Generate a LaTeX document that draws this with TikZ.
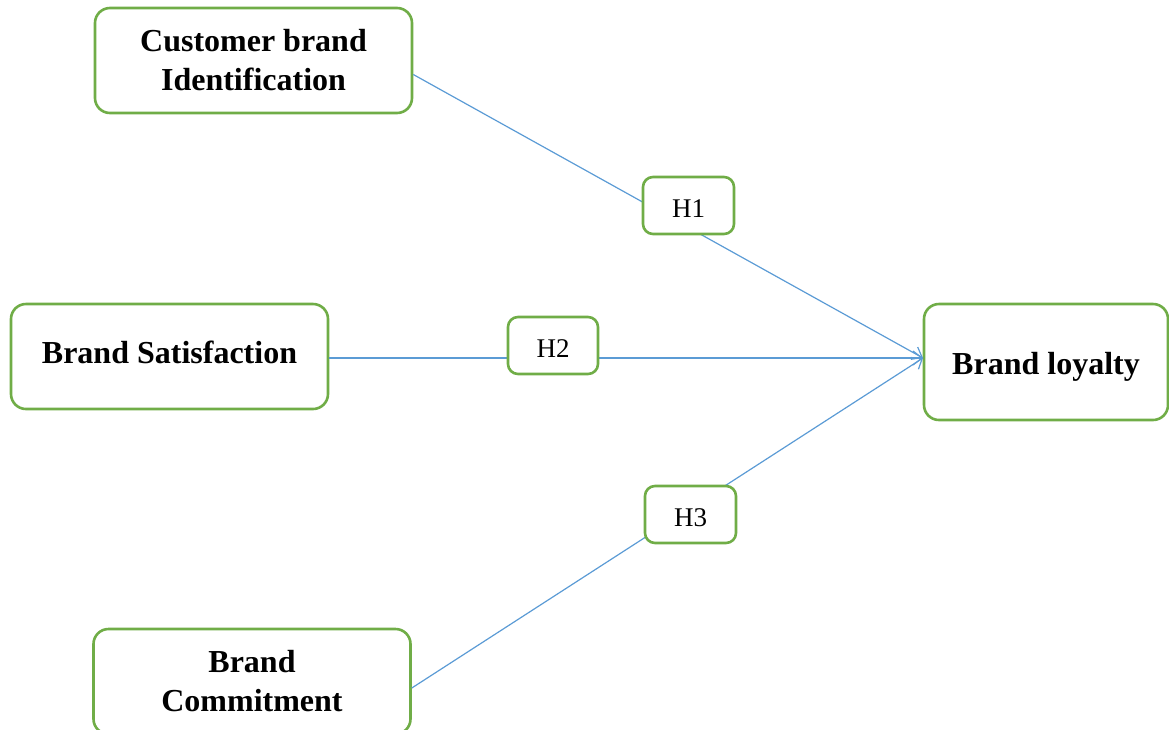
\documentclass[tikz,border=0pt]{standalone}
\usepackage{fontspec}
\setmainfont{Liberation Serif}
\usetikzlibrary{arrows.meta}
\definecolor{boxgreen}{RGB}{112,173,71}
\definecolor{lineblue}{RGB}{91,155,213}
\newcommand\txtdown[2]{\raisebox{-#1}[\height][\depth]{#2}}
\begin{document}
\begin{tikzpicture}[x=1pt,y=-1pt,
  bigbox/.style={draw=boxgreen,line width=2.6pt,rounded corners=15pt,fill=white,
    minimum width=317pt,minimum height=105pt,align=center,inner sep=0pt,
    font=\fontsize{32}{39}\selectfont\bfseries},
  hbox/.style={draw=boxgreen,line width=2.6pt,rounded corners=10pt,fill=white,
    minimum width=91pt,minimum height=57pt,inner sep=0pt,
    font=\fontsize{27}{32}\selectfont},
  link/.style={draw=lineblue,line width=1.2pt,-{Straight Barb[length=9pt,width=14pt,line width=1.2pt]}}]
\useasboundingbox (0,0) rectangle (1169,729);
\node[bigbox] (cbi) at (253.5,60.5) {\txtdown{3pt}{\begin{tabular}{@{}c@{}}Customer brand\\Identification\end{tabular}}};
\node[bigbox,text depth=9pt] (bs) at (169.5,356.5) {Brand Satisfaction};
\node[bigbox] (bc) at (252,681.5) {\txtdown{3pt}{\begin{tabular}{@{}c@{}}Brand\\Commitment\end{tabular}}};
\node[bigbox,minimum width=244pt,minimum height=116pt] (bl) at (1046,362) {\txtdown{5pt}{Brand loyalty}};
\coordinate (tip) at (923,358);
\draw[link] (cbi.east) ++(0,14) coordinate (cbiout) (cbiout) -- (tip);
\draw[link] (bs.east) ++(0,1.5) coordinate (bsout) (bsout) -- (tip);
\draw[link] (bc.east) ++(0,6.5) coordinate (bcout) (bcout) -- (tip);
\node[hbox] (h1) at (688.5,205.5) {\txtdown{3pt}{H1}};
\node[hbox,minimum width=90pt] (h2) at (553,345.5) {\txtdown{3pt}{H2}};
\node[hbox] (h3) at (690.5,514.5) {\txtdown{3pt}{H3}};
\end{tikzpicture}
\end{document}
